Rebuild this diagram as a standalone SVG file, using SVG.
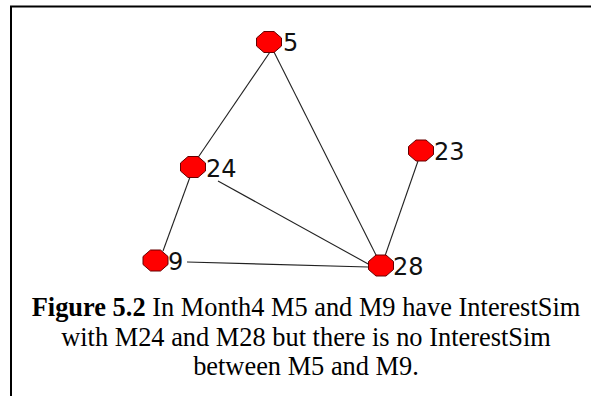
<svg xmlns="http://www.w3.org/2000/svg" width="591" height="396" viewBox="0 0 591 396">
<style>
.edge{stroke:#222;stroke-width:1.1;fill:none}
.node{fill:#f00;stroke:#600;stroke-width:1}
.lbl{font-family:"DejaVu Sans",Verdana,sans-serif;font-size:24px;fill:#111}
.cap{font-family:"Liberation Serif","Times New Roman",serif;font-size:26.4px;fill:#000;text-anchor:middle}
</style>
<defs>
<polygon id="oct" points="-5,-10.5 5,-10.5 12.5,-4 12.5,4 5,10.5 -5,10.5 -12.5,4 -12.5,-4"/>
</defs>
<path d="M11,396 V6.5 H591" fill="none" stroke="#000" stroke-width="2"/>
<g id="connectors">
<line class="edge" x1="270" y1="52" x2="197" y2="159"/>
<line class="edge" x1="274" y1="52" x2="377" y2="257"/>
<line class="edge" x1="218" y1="181" x2="370" y2="265"/>
<line class="edge" x1="190" y1="177" x2="163" y2="251"/>
<line class="edge" x1="187" y1="262" x2="368" y2="267"/>
<line class="edge" x1="418" y1="161" x2="385" y2="256"/>
</g>
<g id="n5"><use href="#oct" class="node" x="269" y="42"/><text class="lbl" x="283" y="50.5">5</text></g>
<g id="n24"><use href="#oct" class="node" x="193" y="167"/><text class="lbl" x="206" y="176.5">24</text></g>
<g id="n9"><use href="#oct" class="node" x="155.5" y="260.5"/><text class="lbl" x="168" y="270">9</text></g>
<g id="n28"><use href="#oct" class="node" x="381" y="265.5"/><text class="lbl" x="393" y="275">28</text></g>
<g id="n23"><use href="#oct" class="node" x="421" y="150.5"/><text class="lbl" x="434" y="160">23</text></g>
<g id="caption">
<text class="cap" x="306" y="316"><tspan font-weight="bold">Figure 5.2</tspan> In Month4 M5 and M9 have InterestSim</text>
<text class="cap" x="306" y="346">with M24 and M28 but there is no InterestSim</text>
<text class="cap" x="306" y="375">between M5 and M9.</text>
</g>
</svg>
